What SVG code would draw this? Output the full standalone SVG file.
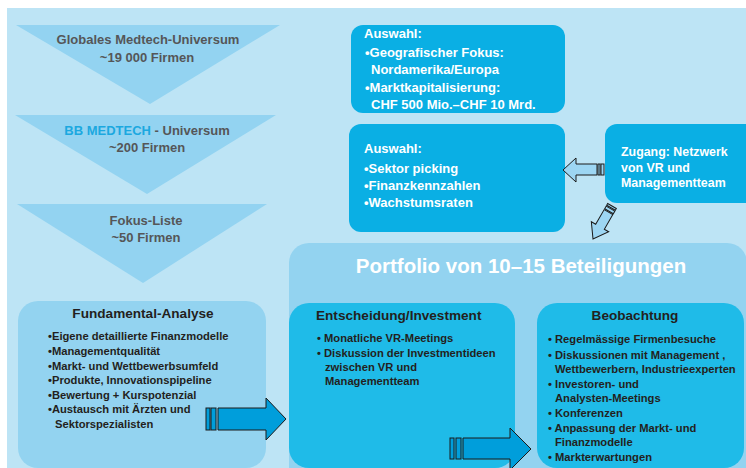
<svg xmlns="http://www.w3.org/2000/svg" width="746" height="468" viewBox="0 0 746 468">
<style>
text{font-family:"Liberation Sans",Arial,sans-serif;font-weight:bold}
.g{fill:#555658;font-size:13px}
.w{fill:#FFFFFF;font-size:13px}
.wz{fill:#FFFFFF;font-size:12.4px}
.h{fill:#231F20;font-size:13.6px}
.b{fill:#231F20;font-size:11.2px}
.tri{fill:#93D3F1}
.mid{fill:#93D3F0}
.cyan{fill:#0AAFE4}
.cyan2{fill:#1FBBE8}
.la{fill:#9DD6F3;stroke:#1A1A1A;stroke-width:1}
.da{fill:#009EDB;stroke:#1A1A1A;stroke-width:1}
</style>
<rect x="7" y="8" width="739" height="460" fill="#BDE4F5"/>
<g id="funnel1">
<polygon class="tri" points="16,25 280,25 150,104"/>
<text class="g" x="148" y="44" text-anchor="middle">Globales Medtech-Universum</text>
<text class="g" x="147" y="62" text-anchor="middle">~19 000 Firmen</text>
</g>
<g id="funnel2">
<polygon class="tri" points="15,115 276,115 147,194"/>
<text class="g" x="147" y="135" text-anchor="middle"><tspan fill="#1BA8E0">BB MEDTECH</tspan> - Universum</text>
<text class="g" x="147" y="152" text-anchor="middle">~200 Firmen</text>
</g>
<g id="funnel3">
<polygon class="tri" points="17,204 267,204 143,283"/>
<text class="g" x="146" y="225" text-anchor="middle">Fokus-Liste</text>
<text class="g" x="146" y="242" text-anchor="middle">~50 Firmen</text>
</g>
<g id="auswahl1">
<rect class="cyan" x="351" y="25" width="214" height="88" rx="12"/>
<text class="w" x="364" y="38">Auswahl:</text>
<text class="w" x="365" y="57">•Geografischer Fokus:</text>
<text class="w" x="371" y="74">Nordamerika/Europa</text>
<text class="w" x="365" y="92">•Marktkapitalisierung:</text>
<text class="w" x="371" y="109">CHF 500 Mio.–CHF 10 Mrd.</text>
</g>
<g id="auswahl2">
<rect class="cyan" x="349" y="124" width="216" height="108" rx="12"/>
<text class="w" x="364" y="153">Auswahl:</text>
<text class="w" x="364" y="173">•Sektor picking</text>
<text class="w" x="364" y="190">•Finanzkennzahlen</text>
<text class="w" x="364" y="207">•Wachstumsraten</text>
</g>
<g id="zugang">
<rect class="cyan" x="605" y="124" width="160" height="79" rx="12"/>
<text class="wz" x="621" y="156">Zugang: Netzwerk</text>
<text class="wz" x="621" y="172">von VR und</text>
<text class="wz" x="621" y="187">Managementteam</text>
</g>
<g id="portfolio">
<rect class="mid" x="289" y="243" width="458" height="245" rx="20"/>
<text x="521" y="273" text-anchor="middle" fill="#FFFFFF" font-size="20.5">Portfolio von 10–15 Beteiligungen</text>
</g>
<g id="fundamental">
<rect class="mid" x="18" y="301" width="248" height="167" rx="20"/>
<text class="h" x="143" y="318" text-anchor="middle">Fundamental-Analyse</text>
<text class="b" x="48" y="340">•Eigene detaillierte Finanzmodelle</text>
<text class="b" x="48" y="355">•Managementqualität</text>
<text class="b" x="48" y="370">•Markt- und Wettbewerbsumfeld</text>
<text class="b" x="48" y="384">•Produkte, Innovationspipeline</text>
<text class="b" x="48" y="399">•Bewertung + Kurspotenzial</text>
<text class="b" x="48" y="413">•Austausch mit Ärzten und</text>
<text class="b" x="55" y="428">Sektorspezialisten</text>
</g>
<g id="entscheidung">
<rect class="cyan2" x="289" y="303" width="226" height="165" rx="20"/>
<text class="h" x="316" y="320">Entscheidung/Investment</text>
<text class="b" x="317" y="342">• Monatliche VR-Meetings</text>
<text class="b" x="317" y="357">• Diskussion der Investmentideen</text>
<text class="b" x="325" y="371">zwischen VR und</text>
<text class="b" x="325" y="385">Managementteam</text>
</g>
<g id="beobachtung">
<rect class="cyan2" x="537" y="303" width="207" height="165" rx="20"/>
<text class="h" x="635" y="320" text-anchor="middle">Beobachtung</text>
<text class="b" x="548" y="343">• Regelmässige Firmenbesuche</text>
<text class="b" x="548" y="359">• Diskussionen mit Management ,</text>
<text class="b" x="555" y="373">Wettbewerbern, Industrieexperten</text>
<text class="b" x="548" y="388">• Investoren- und</text>
<text class="b" x="555" y="402">Analysten-Meetings</text>
<text class="b" x="548" y="417">• Konferenzen</text>
<text class="b" x="548" y="432">• Anpassung der Markt- und</text>
<text class="b" x="555" y="446">Finanzmodelle</text>
<text class="b" x="548" y="461">• Markterwartungen</text>
</g>
<g id="connectors">
<g id="arrow-zugang-auswahl">
<polygon class="la" points="563,170 576,158 576,164 597,164 597,175 576,175 576,182"/>
<rect class="la" x="598" y="164" width="2" height="11"/>
<rect class="la" x="601" y="164" width="3" height="11"/>
</g>
<g id="arrow-zugang-portfolio" transform="translate(612,206) rotate(120)">
<polygon class="la" points="7,-5 24,-5 24,-10 38,0 24,10 24,5 7,5"/>
<rect class="la" x="0" y="-5" width="2" height="10"/>
<rect class="la" x="3" y="-5" width="3" height="10"/>
</g>
<g id="arrow-fundamental-entscheidung">
<polygon class="da" points="218,408 266,408 266,398 286,419 266,440 266,430 218,430"/>
<rect class="da" x="206" y="408" width="4" height="22"/>
<rect class="da" x="211" y="408" width="5" height="22"/>
</g>
<g id="arrow-entscheidung-beobachtung">
<polygon class="da" points="463,438 510,438 510,428 531,449 510,470 510,459 463,459"/>
<rect class="da" x="450" y="438" width="4" height="21"/>
<rect class="da" x="456" y="438" width="5" height="21"/>
</g>
</g>
</svg>
